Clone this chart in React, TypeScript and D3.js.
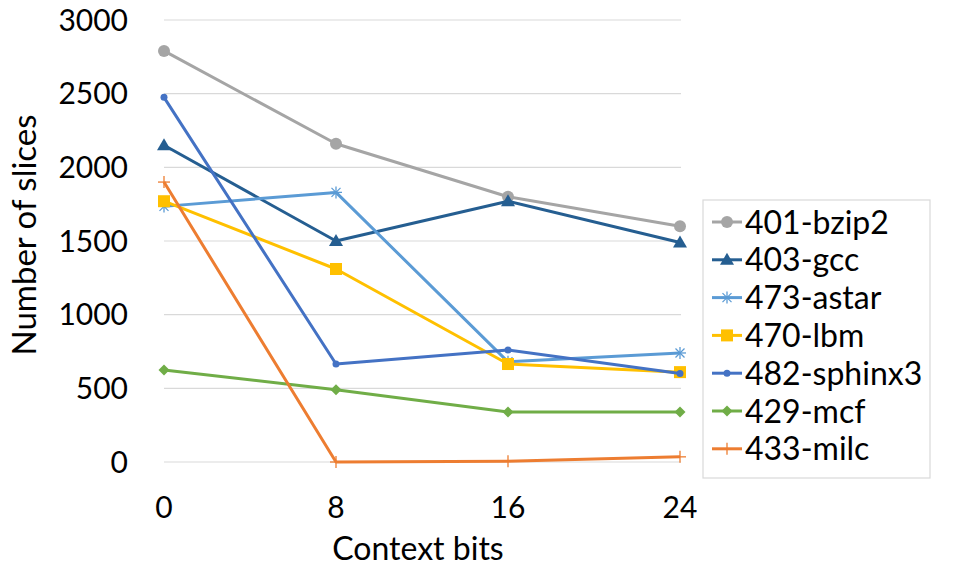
import React from "react";
import * as d3 from "d3";

const categories = ["0", "8", "16", "24"];
const seriesNames = ["401-bzip2", "403-gcc", "473-astar", "470-lbm", "482-sphinx3", "429-mcf", "433-milc"];
const bzip2 = [2790, 2160, 1800, 1600];
const gcc = [2150, 1500, 1770, 1490];
const astar = [1735, 1830, 680, 740];
const lbm = [1770, 1310, 665, 610];
const sphinx3 = [2475, 665, 760, 600];
const mcf = [625, 490, 340, 340];
const milc = [1900, 0, 5, 35];
const yTicks = [0, 500, 1000, 1500, 2000, 2500, 3000];

const seriesValues = [bzip2, gcc, astar, lbm, sphinx3, mcf, milc];
const colors = ["#A5A5A5", "#255E91", "#5B9BD5", "#FFC000", "#4472C4", "#70AD47", "#ED7D31"];
const markers = ["circle", "triangle", "star", "square", "dot", "diamond", "plus"];

const W = 957;
const H = 573;
const FONT = "Lato, 'Open Sans', sans-serif";

function Marker({ type, x, y, color }: { type: string; x: number; y: number; color: string }) {
  switch (type) {
    case "circle":
      return <circle cx={x} cy={y} r={6} fill={color} />;
    case "dot":
      return <circle cx={x} cy={y} r={3.5} fill={color} />;
    case "triangle":
      return <path d={`M${x},${y - 7}L${x + 7},${y + 5}L${x - 7},${y + 5}Z`} fill={color} />;
    case "square":
      return <rect x={x - 6} y={y - 6} width={12} height={12} fill={color} />;
    case "diamond":
      return <path d={`M${x},${y - 5.5}L${x + 5.5},${y}L${x},${y + 5.5}L${x - 5.5},${y}Z`} fill={color} />;
    case "star":
      return (
        <g stroke={color} strokeWidth={1.3}>
          <line x1={x - 6} y1={y} x2={x + 6} y2={y} />
          <line x1={x} y1={y - 6} x2={x} y2={y + 6} />
          <line x1={x - 4.5} y1={y - 4.5} x2={x + 4.5} y2={y + 4.5} />
          <line x1={x - 4.5} y1={y + 4.5} x2={x + 4.5} y2={y - 4.5} />
        </g>
      );
    case "plus":
      return (
        <g stroke={color} strokeWidth={1.3}>
          <line x1={x - 6} y1={y} x2={x + 6} y2={y} />
          <line x1={x} y1={y - 6} x2={x} y2={y + 6} />
        </g>
      );
    default:
      return null;
  }
}

export default function App() {
  const x = d3.scalePoint<string>().domain(categories).range([164, 680]).padding(0);
  const y = d3.scaleLinear().domain([0, 3000]).range([462, 20]);
  const line = d3
    .line<number>()
    .x((_, i) => x(categories[i]) as number)
    .y((d) => y(d));

  const legendX = 703;
  const legendY = 200;
  const legendRow = 37.8;

  return (
    <svg
      width={W}
      height={H}
      style={{ position: "absolute", left: 0, top: 0, background: "#fff" }}
      fontFamily={FONT}
    >
      <rect x={0} y={0} width={W} height={H} fill="#fff" />
      {yTicks.map((t) => (
        <g key={t}>
          <line x1={164} x2={681} y1={y(t)} y2={y(t)} stroke="#D9D9D9" strokeWidth={1.2} />
          <text x={128} y={y(t)} dy="0.36em" textAnchor="end" fontSize={30} fill="#000">
            {t}
          </text>
        </g>
      ))}
      {categories.map((c) => (
        <text key={c} x={x(c)} y={507} dy="0.36em" textAnchor="middle" fontSize={30} fill="#000">
          {c}
        </text>
      ))}
      <text x={418} y={548} dy="0.36em" textAnchor="middle" fontSize={32} fill="#000">
        Context bits
      </text>
      <text
        transform={`translate(24,235) rotate(-90)`}
        dy="0.36em"
        textAnchor="middle"
        fontSize={33}
        fill="#000"
      >
        Number of slices
      </text>
      {seriesValues.map((vals, si) => (
        <g key={seriesNames[si]}>
          <path d={line(vals) as string} fill="none" stroke={colors[si]} strokeWidth={3} strokeLinejoin="round" />
          {vals.map((v, i) => (
            <Marker key={i} type={markers[si]} x={x(categories[i]) as number} y={y(v)} color={colors[si]} />
          ))}
        </g>
      ))}
      <rect x={legendX} y={legendY} width={227} height={278} fill="#fff" stroke="#D9D9D9" strokeWidth={1.2} />
      {seriesNames.map((name, si) => {
        const cy = 222 + si * legendRow;
        return (
          <g key={name}>
            <line x1={712} x2={742} y1={cy} y2={cy} stroke={colors[si]} strokeWidth={3} />
            <Marker type={markers[si]} x={727} y={cy} color={colors[si]} />
            <text x={745} y={cy} dy="0.36em" fontSize={32} fill="#000">
              {name}
            </text>
          </g>
        );
      })}
    </svg>
  );
}
